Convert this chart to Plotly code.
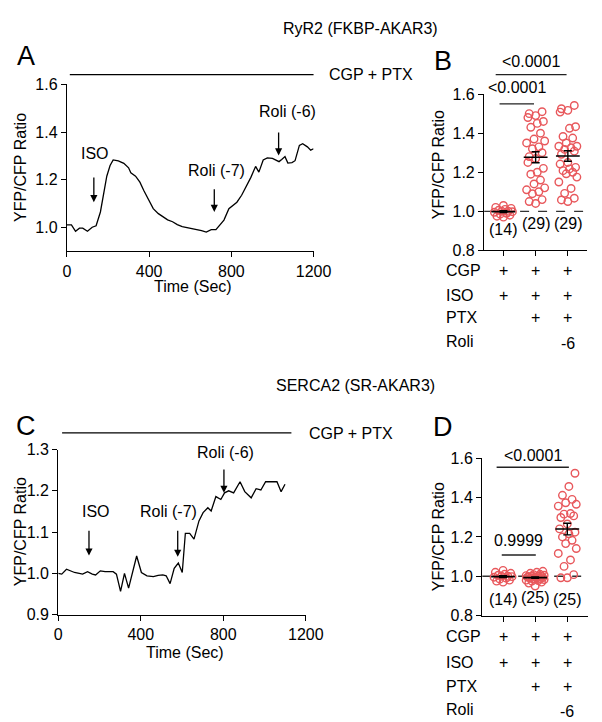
import numpy as np
import plotly.graph_objects as go

W, H = 602, 722
FONT = "Arial, Liberation Sans, sans-serif"
RED = "#E8585C"
FS = 16

# ---------------- data ----------------
# Panel A: RyR2 (FKBP-AKAR3) time course
a_time = [0, 22, 42, 61, 77, 100, 123, 142, 163, 178, 194, 210, 225, 250, 277, 300, 311, 334, 355,
          374, 398, 420, 445, 467, 490, 514, 537, 561, 585, 608, 632, 655, 678, 702, 725, 745, 764,
          788, 810, 827, 850, 873, 895, 918, 934, 955, 975, 1000, 1020, 1032, 1045, 1061, 1075,
          1095, 1110, 1131, 1147, 1170, 1186, 1200]
a_ratio = [1.011, 1.011, 0.984, 0.997, 0.997, 0.984, 1.001, 1.007, 1.065, 1.147, 1.215, 1.26, 1.283,
           1.279, 1.269, 1.25, 1.229, 1.215, 1.19, 1.155, 1.118, 1.079, 1.058, 1.045, 1.032, 1.024,
           1.012, 1.004, 1.0, 0.995, 0.99, 0.987, 0.981, 0.991, 0.991, 1.01, 1.031, 1.079, 1.095,
           1.106, 1.135, 1.174, 1.21, 1.256, 1.232, 1.283, 1.292, 1.29, 1.281, 1.276, 1.285, 1.297,
           1.27, 1.272, 1.28, 1.344, 1.351, 1.338, 1.324, 1.33]

# Panel C: SERCA2 (SR-AKAR3) time course
c_time = [0, 17, 40, 79, 118, 142, 165, 181, 204, 227, 266, 282, 302, 321, 341, 380, 403, 430, 461,
          484, 507, 523, 542, 562, 582, 601, 616, 637, 658, 682, 702, 725, 741, 764, 788, 806, 826,
          850, 881, 904, 935, 959, 982, 1005, 1029, 1060, 1080, 1099]
c_ratio = [1.0, 0.998, 1.01, 1.002, 0.998, 1.004, 0.998, 0.996, 1.006, 1.004, 1.004, 0.998, 0.956,
           1.0, 0.964, 1.042, 1.002, 0.994, 0.992, 0.995, 0.996, 0.994, 0.975, 1.012, 1.025, 1.002,
           1.097, 1.097, 1.083, 1.127, 1.147, 1.159, 1.151, 1.186, 1.179, 1.195, 1.2, 1.195, 1.222,
           1.198, 1.183, 1.205, 1.202, 1.222, 1.222, 1.222, 1.198, 1.216]

# Panel B groups
b_g1 = [1.03, 1.02, 1.015, 1.01, 1.005, 1.0, 1.0, 0.998, 0.995, 0.99, 0.985, 0.98, 0.975, 0.97]
b_g2 = [1.51, 1.50, 1.49, 1.48, 1.46, 1.45, 1.43, 1.40, 1.37, 1.36, 1.35, 1.33, 1.32, 1.30, 1.28,
        1.27, 1.25, 1.22, 1.20, 1.19, 1.16, 1.14, 1.12, 1.11, 1.10, 1.09, 1.06, 1.05, 1.04]
b_g3 = [1.542, 1.525, 1.517, 1.508, 1.433, 1.425, 1.383, 1.375, 1.35, 1.333, 1.333, 1.325, 1.317,
        1.308, 1.292, 1.25, 1.242, 1.225, 1.217, 1.208, 1.2, 1.192, 1.175, 1.15, 1.117, 1.092,
        1.067, 1.058, 1.05]
b_counts = ["(14)", "(29)", "(29)"]
b_pvals = ["<0.0001", "<0.0001"]

# Panel D groups
d_g1 = [1.03, 1.02, 1.015, 1.01, 1.005, 1.0, 1.0, 0.998, 0.995, 0.99, 0.985, 0.98, 0.975, 0.97]
d_g2 = [1.025, 1.02, 1.015, 1.01, 1.008, 1.005, 1.003, 1.0, 1.0, 1.0, 0.998, 0.996, 0.995, 0.993,
        0.99, 0.99, 0.988, 0.985, 0.983, 0.98, 0.978, 0.975, 0.97, 0.965, 0.95]
d_g3 = [1.524, 1.457, 1.412, 1.391, 1.374, 1.366, 1.357, 1.319, 1.316, 1.307, 1.299, 1.266, 1.241,
        1.224, 1.216, 1.2, 1.183, 1.166, 1.141, 1.116, 1.083, 1.05, 1.008, 0.992, 0.992]
d_counts = ["(14)", "(25)", "(25)"]
d_pvals = ["<0.0001", "0.9999"]

row_labels = ["CGP", "ISO", "PTX", "Roli"]
b_table = [["+", "+", "+"], ["+", "+", "+"], ["", "+", "+"], ["", "", "-6"]]
d_table = [["+", "+", "+"], ["+", "+", "+"], ["", "+", "+"], ["", "", "-6"]]

# ---------------- layout geometry (pixels) ----------------
def px_x(p):
    return p / W

def px_y(p):
    return 1 - p / H

dom = {
    "A": dict(x=[px_x(57), px_x(313)], y=[px_y(241), px_y(70)], xr=[0, 1200], yr=[0.9, 1.6]),
    "B": dict(x=[px_x(490), px_x(597)], y=[px_y(240), px_y(80)], xr=[-0.6, 2.6], yr=[0.8, 1.6]),
    "C": dict(x=[px_x(48), px_x(305)], y=[px_y(613), px_y(444)], xr=[0, 1200], yr=[0.9, 1.3]),
    "D": dict(x=[px_x(488), px_x(598)], y=[px_y(614), px_y(453)], xr=[-0.65, 2.65], yr=[0.8, 1.6]),
}

def to_paper_x(panel, v):
    d = dom[panel]
    return d["x"][0] + (v - d["xr"][0]) / (d["xr"][1] - d["xr"][0]) * (d["x"][1] - d["x"][0])

def to_paper_y(panel, v):
    d = dom[panel]
    return d["y"][0] + (v - d["yr"][0]) / (d["yr"][1] - d["yr"][0]) * (d["y"][1] - d["y"][0])

fig = go.Figure()

# time courses
fig.add_trace(go.Scatter(x=a_time, y=a_ratio, mode="lines", line=dict(color="black", width=1.3),
                         xaxis="x", yaxis="y", showlegend=False))
fig.add_trace(go.Scatter(x=c_time, y=c_ratio, mode="lines", line=dict(color="black", width=1.3),
                         xaxis="x3", yaxis="y3", showlegend=False))

pattern = [0.0, -0.2, 0.2, -0.1, 0.1, -0.28, 0.28, -0.05, 0.15, -0.15, 0.05, 0.24, -0.24]

def swarm(values, center):
    order = np.argsort(values)
    xs = np.zeros(len(values))
    for rank, idx in enumerate(order):
        xs[idx] = center + pattern[rank % len(pattern)]
    return xs

def add_groups(groups, xa, ya):
    for i, g in enumerate(groups):
        fig.add_trace(go.Scatter(x=swarm(g, i), y=g, mode="markers",
                                 marker=dict(symbol="circle-open", size=7.5, color=RED,
                                             line=dict(width=1.4, color=RED)),
                                 xaxis=xa, yaxis=ya, showlegend=False))
    for i, g in enumerate(groups):
        arr = np.array(g)
        sem = arr.std(ddof=1) / np.sqrt(len(arr))
        fig.add_trace(go.Scatter(x=[i], y=[arr.mean()], mode="markers",
                                 marker=dict(symbol="line-ew", size=17, color="black",
                                             line=dict(width=1.6, color="black")),
                                 error_y=dict(type="data", array=[sem], color="black",
                                              thickness=1.4, width=4),
                                 xaxis=xa, yaxis=ya, showlegend=False))

add_groups([b_g1, b_g2, b_g3], "x2", "y2")
add_groups([d_g1, d_g2, d_g3], "x4", "y4")

axis_common = dict(showline=True, linecolor="black", linewidth=1.3, ticks="outside", ticklen=5,
                   tickwidth=1.3, tickcolor="black", showgrid=False, zeroline=False,
                   tickfont=dict(family=FONT, size=FS, color="black"))

layout = dict(
    width=W, height=H, autosize=False, margin=dict(l=0, r=0, t=0, b=0),
    paper_bgcolor="white", plot_bgcolor="rgba(0,0,0,0)", showlegend=False,
    font=dict(family=FONT, size=FS, color="black"),
    xaxis=dict(domain=dom["A"]["x"], range=dom["A"]["xr"], anchor="y",
               tickvals=[0, 400, 800, 1200], **axis_common),
    yaxis=dict(domain=dom["A"]["y"], range=dom["A"]["yr"], anchor="x",
               tickvals=[1.0, 1.2, 1.4, 1.6], tickformat=".1f", **axis_common),
    xaxis2=dict(domain=dom["B"]["x"], range=dom["B"]["xr"], anchor="y2",
                tickvals=[0, 1, 2], showticklabels=False, **axis_common),
    yaxis2=dict(domain=dom["B"]["y"], range=dom["B"]["yr"], anchor="x2",
                tickvals=[0.8, 1.0, 1.2, 1.4, 1.6], tickformat=".1f", **axis_common),
    xaxis3=dict(domain=dom["C"]["x"], range=dom["C"]["xr"], anchor="y3",
                tickvals=[0, 400, 800, 1200], **axis_common),
    yaxis3=dict(domain=dom["C"]["y"], range=dom["C"]["yr"], anchor="x3",
                tickvals=[0.9, 1.0, 1.1, 1.2, 1.3], tickformat=".1f", **axis_common),
    xaxis4=dict(domain=dom["D"]["x"], range=dom["D"]["xr"], anchor="y4",
                tickvals=[0, 1, 2], showticklabels=False, **axis_common),
    yaxis4=dict(domain=dom["D"]["y"], range=dom["D"]["yr"], anchor="x4",
                tickvals=[0.8, 1.0, 1.2, 1.4, 1.6], tickformat=".1f", **axis_common),
)
fig.update_layout(**layout)

ann = []
shapes = []

def text(x, y, s, size=FS, xanchor="center", yanchor="middle", angle=0, xref="paper", yref="paper"):
    ann.append(dict(x=x, y=y, xref=xref, yref=yref, text=s, showarrow=False, xanchor=xanchor,
                    yanchor=yanchor, textangle=angle, font=dict(family=FONT, size=size, color="black")))

def hline(x0, x1, y, color="black", width=1.3):
    shapes.append(dict(type="line", xref="paper", yref="paper", x0=x0, x1=x1, y0=y, y1=y,
                       line=dict(color=color, width=width)))

# titles & panel letters
text(px_x(362), px_y(13), "RyR2 (FKBP-AKAR3)", size=16)
text(px_x(357), px_y(378), "SERCA2 (SR-AKAR3)", size=16)
text(px_x(15), px_y(41), "A", size=27)
text(px_x(447), px_y(46), "B", size=27)
text(px_x(15), px_y(420), "C", size=27)
text(px_x(447), px_y(421), "D", size=27)

# axis titles
text(px_x(9), px_y(155), "YFP/CFP Ratio", angle=-90)
text(px_x(443), px_y(152), "YFP/CFP Ratio", angle=-90)
text(px_x(9), px_y(528), "YFP/CFP Ratio", angle=-90)
text(px_x(443), px_y(533), "YFP/CFP Ratio", angle=-90)
text(px_x(188), px_y(277), "Time (Sec)")
text(px_x(180), px_y(652), "Time (Sec)")

# treatment bars
hline(px_x(60), px_x(313), px_y(60))
text(px_x(327), px_y(60), "CGP + PTX", xanchor="left")
hline(px_x(52), px_x(290), px_y(427))
text(px_x(306), px_y(428), "CGP + PTX", xanchor="left")

# arrows in time courses
def arrow(xa, ya, x, y_tip, y_tail):
    ann.append(dict(x=x, y=y_tip, ax=x, ay=y_tail, xref=xa, yref=ya, axref=xa, ayref=ya, text="",
                    showarrow=True, arrowhead=2, arrowsize=1.1, arrowwidth=1.3, arrowcolor="black"))

arrow("x", "y", 131, 1.106, 1.216)
arrow("x", "y", 717, 1.065, 1.167)
arrow("x", "y", 1030, 1.302, 1.404)
text(136, 1.31, "ISO", xref="x", yref="y")
text(727, 1.237, "Roli (-7)", xref="x", yref="y")
text(1073, 1.486, "Roli (-6)", xref="x", yref="y")

arrow("x3", "y3", 149, 1.043, 1.107)
arrow("x3", "y3", 579, 1.04, 1.107)
arrow("x3", "y3", 803, 1.195, 1.255)
text(182, 1.15, "ISO", xref="x3", yref="y3")
text(532, 1.15, "Roli (-7)", xref="x3", yref="y3")
text(812, 1.293, "Roli (-6)", xref="x3", yref="y3")

# dashed reference lines at 1.0
for xa, ya, p in [("x2", "y2", "B"), ("x4", "y4", "D")]:
    shapes.append(dict(type="line", xref=xa, yref=ya, x0=dom[p]["xr"][0], x1=dom[p]["xr"][1],
                       y0=1.0, y1=1.0, layer="below", line=dict(color="#333", width=1.3, dash="dash")))

# significance bars (category / value positions converted to paper)
def sig(panel, c0, c1, v, label, v_text):
    hline(to_paper_x(panel, c0), to_paper_x(panel, c1), to_paper_y(panel, v), color="#222", width=1.4)
    text(to_paper_x(panel, (c0 + c1) / 2), to_paper_y(panel, v_text), label)

sig("B", -0.24, 1.96, 1.70, b_pvals[0], 1.765)
sig("B", -0.12, 0.95, 1.55, b_pvals[1], 1.635)
sig("D", -0.20, 2.05, 1.555, d_pvals[0], 1.615)
sig("D", -0.04, 1.02, 1.108, d_pvals[1], 1.183)

# counts
for i, (s, v) in enumerate(zip(b_counts, [0.905, 0.935, 0.935])):
    text(to_paper_x("B", i), to_paper_y("B", v), s)
for i, (s, v) in enumerate(zip(d_counts, [0.884, 0.894, 0.88])):
    text(to_paper_x("D", i), to_paper_y("D", v), s)

# treatment tables
def table(panel, rows_px, table_vals):
    for lab, ypx, vals in zip(row_labels, rows_px, table_vals):
        text(px_x(448), px_y(ypx), lab, xanchor="left")
        for i, s in enumerate(vals):
            if s:
                text(to_paper_x(panel, i), px_y(ypx + (2 if s == "-6" else 0)), s)

table("B", [261, 286, 309, 333], b_table)
table("D", [635, 662, 687, 710], d_table)

fig.update_layout(annotations=ann, shapes=shapes)
fig.write_html("out.html")
